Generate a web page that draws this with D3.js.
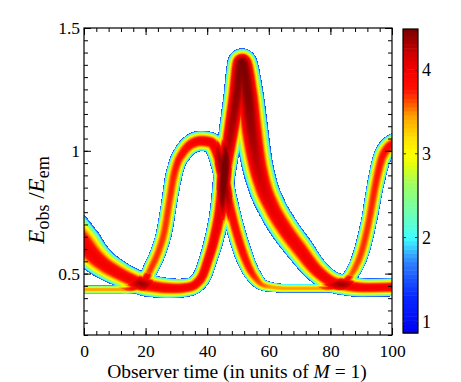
<!DOCTYPE html>
<html>
<head>
<meta charset="utf-8">
<script src="https://cdn.jsdelivr.net/npm/d3@7"></script>
<style>
  body { margin: 0; background: #fff; }
  text { font-family: "Liberation Serif", "Times New Roman", serif; fill: #000; }
</style>
</head>
<body>
<script>
// band A (thick one, big peak near t = 51)
var aTime   = [0, 3, 6.5, 10, 13, 16.5, 19.5, 23, 26, 30, 34, 36.4, 38.6, 40.3, 42.2, 44.2, 45.8, 47.5, 49.4, 51.3, 53.2, 54.5, 56, 58, 61, 65, 70, 75, 80, 85, 92, 100];
var aRatio  = [0.62, 0.575, 0.537, 0.51, 0.49, 0.47, 0.455, 0.447, 0.442, 0.44, 0.445, 0.459, 0.496, 0.557, 0.638, 0.76, 0.923, 1.06, 1.207, 1.36, 1.22, 1.08, 0.96, 0.86, 0.77, 0.685, 0.60, 0.52, 0.47, 0.452, 0.443, 0.445];
var aSpread = [0.076, 0.068, 0.060, 0.055, 0.051, 0.049, 0.047, 0.045, 0.043, 0.040, 0.038, 0.038, 0.038, 0.038, 0.040, 0.042, 0.046, 0.050, 0.054, 0.058, 0.066, 0.068, 0.065, 0.062, 0.060, 0.060, 0.058, 0.051, 0.045, 0.042, 0.038, 0.038];
var aLevel  = [4.0, 4.0, 3.98, 3.98, 3.98, 3.98, 3.98, 3.98, 3.98, 3.98, 3.98, 3.98, 3.98, 4.0, 4.02, 4.08, 4.18, 4.3, 4.4, 4.5, 4.45, 4.35, 4.25, 4.15, 4.05, 4.02, 4.0, 4.0, 4.0, 4.0, 3.98, 3.98];

// band B (thinner one, flat tops near E = 1.04)
var bTime   = [0, 6, 12, 15, 17, 19, 20.5, 22, 24.4, 26, 27.8, 29, 30.3, 32, 34, 36, 38, 41, 43, 44.8, 46.5, 48.4, 51.6, 53.9, 55.8, 57.8, 61, 66, 72, 78, 82, 84, 86, 87.7, 90, 92.6, 94.5, 96.7, 98.5, 100];
var bRatio  = [0.435, 0.435, 0.435, 0.437, 0.445, 0.46, 0.49, 0.528, 0.598, 0.667, 0.80, 0.89, 0.95, 0.99, 1.02, 1.035, 1.04, 1.035, 1.0, 0.92, 0.82, 0.72, 0.585, 0.516, 0.48, 0.455, 0.445, 0.44, 0.44, 0.44, 0.447, 0.46, 0.485, 0.516, 0.585, 0.72, 0.854, 0.97, 1.01, 1.025];
var bSpread = [0.018, 0.018, 0.018, 0.020, 0.024, 0.028, 0.031, 0.033, 0.033, 0.033, 0.033, 0.035, 0.035, 0.038, 0.040, 0.042, 0.042, 0.042, 0.042, 0.040, 0.038, 0.038, 0.038, 0.035, 0.031, 0.024, 0.020, 0.018, 0.018, 0.018, 0.020, 0.024, 0.028, 0.031, 0.033, 0.033, 0.035, 0.038, 0.040, 0.042];
var bLevel  = [3.45, 3.45, 3.45, 3.5, 3.55, 3.6, 3.65, 3.7, 3.7, 3.7, 3.72, 3.75, 3.8, 3.85, 3.9, 3.95, 4.0, 4.0, 4.0, 4.0, 3.95, 3.9, 3.85, 3.8, 3.7, 3.6, 3.45, 3.45, 3.45, 3.45, 3.45, 3.5, 3.55, 3.65, 3.7, 3.72, 3.75, 3.8, 3.85, 3.9];

var xTicks = [0, 20, 40, 60, 80, 100];
var yTicks = [0.5, 1, 1.5];
var barTicks = [1, 2, 3, 4];

// colour table (value -> colour)
var cmapValues = [0.86, 1.3, 1.7, 2.0, 2.3, 2.65, 2.85, 3.0, 3.2, 3.45, 3.62, 3.77, 4.0, 4.2, 4.35, 4.5];
var cmapColors = ["#0000f0", "#0828ff", "#3080ff", "#40ffff", "#70ffb0", "#a0ff60", "#e0ff10", "#ffff00", "#ffe000", "#ffa000", "#ff5000", "#ff1000", "#f40000", "#d00000", "#a00000", "#780000"];

var w = 461;
var h = 382;
var mLeft = 84, mRight = 392, mTop = 28, mBottom = 335;

var xScale = d3.scaleLinear().domain([0, 100]).range([mLeft, mRight]);
var yScale = d3.scaleLinear().domain([0.25, 1.5]).range([mBottom, mTop]);
var color = d3.scaleLinear().domain(cmapValues).range(cmapColors).clamp(true);
var barScale = d3.scaleLinear().domain([0.86, 4.49]).range([333, 29]);

var svg = d3.select("body")
  .append("svg")
  .attr("width", w)
  .attr("height", h);

var pw = mRight - mLeft;
var ph = mBottom - mTop;

// rasterise one band: distance from the drawn curve, scaled by its spread
function band(time, ratio, spread, level) {
  var buf = new Float32Array(pw * ph);
  var line = d3.line()
    .x(function (d, i) { return xScale(time[i]); })
    .y(function (d, i) { return yScale(ratio[i]); })
    .curve(d3.curveMonotoneX);
  var path = svg.append("path").attr("d", line(time)).attr("fill", "none");
  var node = path.node();
  var len = node.getTotalLength();
  var sp = d3.scaleLinear().domain(time).range(spread).clamp(true);
  var lv = d3.scaleLinear().domain(time).range(level).clamp(true);
  var p0 = node.getPointAtLength(0), p0b = node.getPointAtLength(1);
  var p1 = node.getPointAtLength(len), p1b = node.getPointAtLength(len - 1);
  var ext = 30;
  for (var s = -ext; s <= len + ext; s += 0.5) {
    var p;
    if (s < 0) p = { x: p0.x + (p0b.x - p0.x) * s, y: p0.y + (p0b.y - p0.y) * s };
    else if (s > len) p = { x: p1.x + (p1.x - p1b.x) * (s - len), y: p1.y + (p1.y - p1b.y) * (s - len) };
    else p = node.getPointAtLength(s);
    var t = xScale.invert(p.x);
    var r = yScale(0) - yScale(sp(t));
    var L = lv(t);
    var px = p.x - mLeft, py = p.y - mTop;
    var i0 = Math.max(0, Math.floor(px - r)), i1 = Math.min(pw - 1, Math.ceil(px + r));
    var j0 = Math.max(0, Math.floor(py - r)), j1 = Math.min(ph - 1, Math.ceil(py + r));
    for (var j = j0; j <= j1; j++) {
      for (var i = i0; i <= i1; i++) {
        var dx = i + 0.5 - px, dy = j + 0.5 - py;
        var nd = Math.sqrt(dx * dx + dy * dy) / r;
        if (nd >= 1) continue;
        var v = L - (L - 1.4) * Math.pow(nd, 2.4);
        var k = j * pw + i;
        if (v > buf[k]) buf[k] = v;
      }
    }
  }
  path.remove();
  return buf;
}

var bufA = band(aTime, aRatio, aSpread, aLevel);
var bufB = band(bTime, bRatio, bSpread, bLevel);

var canvas = document.createElement("canvas");
canvas.width = pw;
canvas.height = ph;
var ctx = canvas.getContext("2d");
var img = ctx.createImageData(pw, ph);
for (var k = 0; k < pw * ph; k++) {
  var a = bufA[k], b = bufB[k];
  var v = Math.max(a, b) + 0.1 * Math.min(a, b);
  if (v <= 0) continue;
  var c = d3.rgb(color(Math.min(v, 4.5)));
  img.data[k * 4] = c.r;
  img.data[k * 4 + 1] = c.g;
  img.data[k * 4 + 2] = c.b;
  img.data[k * 4 + 3] = 255;
}
ctx.putImageData(img, 0, 0);

svg.append("image")
  .attr("x", mLeft)
  .attr("y", mTop)
  .attr("width", pw)
  .attr("height", ph)
  .attr("href", canvas.toDataURL());

// axes, ticks pointing inwards on all four sides
function styleAxis(g) {
  g.select(".domain").remove();
  g.selectAll("line").attr("stroke", "#000");
  g.selectAll("text").attr("font-family", "Liberation Serif").attr("font-size", 17.5).attr("fill", "#000");
}

var xMinor = d3.range(0, 101, 4);
var yMinor = d3.range(0.25, 1.501, 0.05);

svg.append("g").attr("transform", "translate(0," + mBottom + ")")
  .call(d3.axisBottom(xScale).tickValues(xMinor).tickSize(-4).tickFormat(""))
  .call(styleAxis);
svg.append("g").attr("transform", "translate(0," + mBottom + ")")
  .call(d3.axisBottom(xScale).tickValues(xTicks).tickSize(-7).tickPadding(9.5))
  .call(styleAxis);
svg.append("g").attr("transform", "translate(0," + mTop + ")")
  .call(d3.axisTop(xScale).tickValues(xMinor).tickSize(-4).tickFormat(""))
  .call(styleAxis);
svg.append("g").attr("transform", "translate(0," + mTop + ")")
  .call(d3.axisTop(xScale).tickValues(xTicks).tickSize(-7).tickFormat(""))
  .call(styleAxis);

svg.append("g").attr("transform", "translate(" + mLeft + ",0)")
  .call(d3.axisLeft(yScale).tickValues(yMinor).tickSize(-4).tickFormat(""))
  .call(styleAxis);
svg.append("g").attr("transform", "translate(" + mLeft + ",0)")
  .call(d3.axisLeft(yScale).tickValues(yTicks).tickSize(-7).tickPadding(4).tickFormat(d3.format("")))
  .call(styleAxis);
svg.append("g").attr("transform", "translate(" + mRight + ",0)")
  .call(d3.axisRight(yScale).tickValues(yMinor).tickSize(-4).tickFormat(""))
  .call(styleAxis);
svg.append("g").attr("transform", "translate(" + mRight + ",0)")
  .call(d3.axisRight(yScale).tickValues(yTicks).tickSize(-7).tickFormat(""))
  .call(styleAxis);

svg.append("rect")
  .attr("x", mLeft).attr("y", mTop)
  .attr("width", pw).attr("height", ph)
  .attr("fill", "none").attr("stroke", "#000").attr("stroke-width", 1.2);

// axis titles
svg.append("text")
  .attr("x", (mLeft + mRight) / 2 - 1)
  .attr("y", 378)
  .attr("text-anchor", "middle")
  .attr("font-size", 19.5)
  .html('Observer time (in units of <tspan font-style="italic">M</tspan> = 1)');

var yt = svg.append("text")
  .attr("transform", "translate(44,200) rotate(-90)")
  .attr("text-anchor", "middle")
  .attr("font-size", 23);
yt.append("tspan").attr("font-style", "italic").text("E");
yt.append("tspan").attr("font-size", 18).attr("dy", 5).text("obs");
yt.append("tspan").attr("dy", -5).text(" /");
yt.append("tspan").attr("font-style", "italic").text("E");
yt.append("tspan").attr("font-size", 18).attr("dy", 5).text("em");

// colour bar
var barX = 403, barW = 15;
var step = 0.05;
svg.append("g").selectAll("rect")
  .data(d3.range(0.86, 4.49, step))
  .enter()
  .append("rect")
  .attr("x", barX)
  .attr("y", function (d) { return barScale(Math.min(d + step, 4.49)); })
  .attr("width", barW)
  .attr("height", function (d) { return barScale(d) - barScale(Math.min(d + step, 4.49)) + 0.5; })
  .attr("fill", function (d) { return color(d + step / 2); });

svg.append("rect")
  .attr("x", barX).attr("y", barScale(4.49))
  .attr("width", barW).attr("height", barScale(0.86) - barScale(4.49))
  .attr("fill", "none").attr("stroke", "#000").attr("stroke-width", 1.2);

var bt = svg.append("g").selectAll("g")
  .data(barTicks)
  .enter()
  .append("g")
  .attr("transform", function (d) { return "translate(0," + barScale(d) + ")"; });
bt.append("line").attr("x1", barX).attr("x2", barX + 3).attr("stroke", "#333");
bt.append("line").attr("x1", barX + barW - 3).attr("x2", barX + barW).attr("stroke", "#333");
bt.append("text")
  .attr("x", barX + barW + 4)
  .attr("dy", "0.35em")
  .attr("font-size", 18)
  .text(function (d) { return d; });
</script>
</body>
</html>
